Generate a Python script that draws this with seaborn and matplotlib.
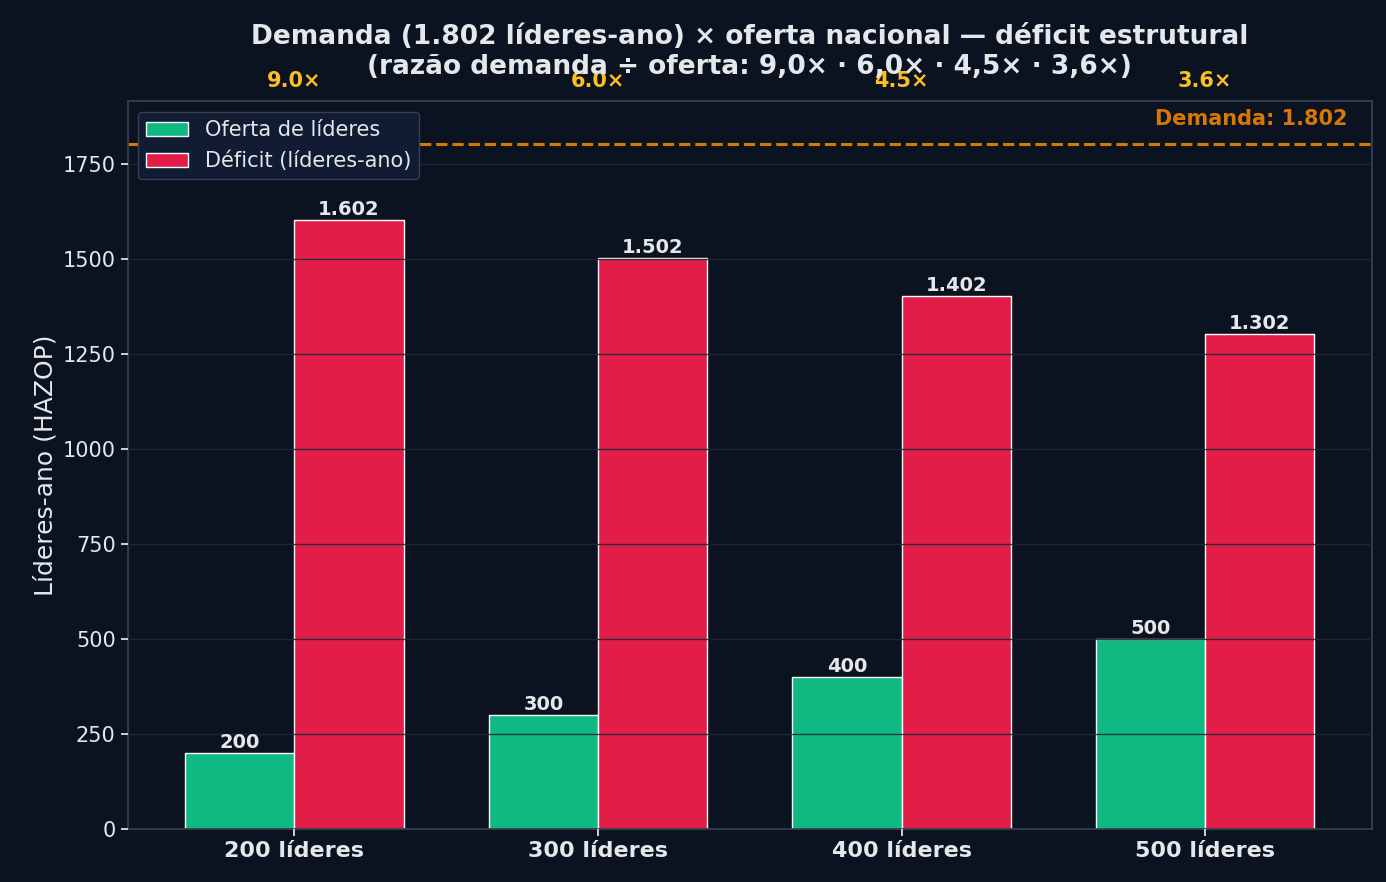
import matplotlib
matplotlib.use("Agg")
import matplotlib.pyplot as plt
import seaborn as sns
import pandas as pd

categorias = ["200 líderes", "300 líderes", "400 líderes", "500 líderes"]
oferta = [200, 300, 400, 500]
deficit = [1602, 1502, 1402, 1302]
razao = ["9.0×", "6.0×", "4.5×", "3.6×"]
demanda = 1802

BG = "#0b1220"
TXT = "#e5e7eb"

sns.set_theme(style="dark")
plt.rcParams["font.family"] = ["DejaVu Sans"]

df = pd.DataFrame({
    "cat": categorias * 2,
    "valor": oferta + deficit,
    "serie": ["Oferta de líderes"] * 4 + ["Déficit (líderes-ano)"] * 4,
})

fig, ax = plt.subplots(figsize=(13.86, 8.82), dpi=100)
fig.patch.set_facecolor(BG)
ax.set_facecolor(BG)

sns.barplot(data=df, x="cat", y="valor", hue="serie", palette=["#10b981", "#e11d48"],
            width=0.72, edgecolor="white", linewidth=1.0, saturation=1, ax=ax)

for cont in ax.containers:
    for bar in cont:
        h = bar.get_height()
        ax.text(bar.get_x() + bar.get_width() / 2, h + 4, f"{h:,.0f}".replace(",", "."),
                ha="center", va="bottom", color=TXT, fontsize=14, fontweight="bold")

ax.axhline(demanda, color="#d97706", ls="--", lw=2.2, zorder=1)
ax.text(0.98, demanda + 40, f"Demanda: {demanda:,}".replace(",", "."), transform=ax.get_yaxis_transform(),
        ha="right", va="bottom", color="#d97706", fontsize=15, fontweight="bold")

for i, r in enumerate(razao):
    ax.text(i, 1.015, r, transform=ax.get_xaxis_transform(), ha="center", va="bottom",
            color="#fbbf24", fontsize=15, fontweight="bold")

ax.set_ylim(0, 1915)
ax.set_xlim(-0.55, 3.55)
ax.grid(axis="y", color="#1f2937", lw=1, alpha=0.9)
ax.set_axisbelow(False)
for s in ax.spines.values():
    s.set_color("#374151")
ax.tick_params(colors=TXT, labelsize=15, left=True, bottom=True, length=5)
for lbl in ax.get_xticklabels():
    lbl.set_fontweight("bold")
    lbl.set_fontsize(16)
ax.set_xlabel("")
ax.set_ylabel("Líderes-ano (HAZOP)", color=TXT, fontsize=18)
ax.set_title("Demanda (1.802 líderes-ano) × oferta nacional — déficit estrutural\n"
             "(razão demanda ÷ oferta: 9,0× · 6,0× · 4,5× · 3,6×)",
             color=TXT, fontsize=19, fontweight="bold", pad=20)

leg = ax.legend(loc="upper left", fontsize=15, facecolor="#111c33", edgecolor="#374151",
                labelcolor=TXT, framealpha=1)

fig.subplots_adjust(left=0.092, right=0.99, top=0.885, bottom=0.06)
fig.savefig("out.png", dpi=100, facecolor=BG)
